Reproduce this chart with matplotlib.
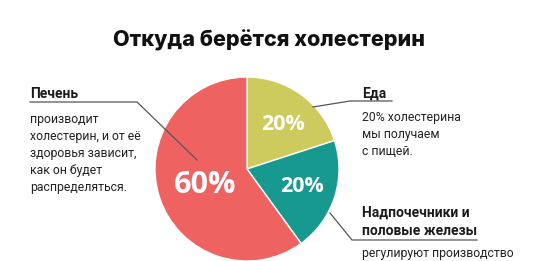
import matplotlib
matplotlib.use("Agg")
import matplotlib.pyplot as plt

# данные
доли = [20, 20, 60]
подписи = ["20%", "20%", "60%"]
цвета = ["#cdcb5e", "#17998f", "#ef6262"]
заголовок = "Откуда берётся холестерин"

W, H = 533, 261
fig = plt.figure(figsize=(W / 100, H / 100), dpi=100)
ax = fig.add_axes([0, 0, 1, 1])

def Y(y):
    # пиксели сверху -> координаты снизу
    return H - y

cx, cy, r = 247, Y(169), 92
wedges, _ = ax.pie(доли, colors=цвета, startangle=90, counterclock=False,
                   center=(cx, cy), radius=r,
                   wedgeprops=dict(edgecolor="white", linewidth=1))
ax.set_xlim(0, W)
ax.set_ylim(0, H)
ax.set_aspect("equal")
ax.axis("off")

# проценты внутри секторов
pos = [(283, 125, 15.5), (302, 187, 15.5), (205, 185, 22)]
for (x, y, fs), t in zip(pos, подписи):
    ax.text(x, Y(y), t, ha="center", va="center", color="white",
            fontsize=fs, fontweight="bold", family="Open Sans")

ax.text(269, Y(40), заголовок, ha="center", va="center", fontsize=15.5,
        fontweight="heavy", color="#111111", family="Inter")

bold = dict(fontsize=10, fontweight="bold", color="#1a1a1a", family="Roboto")
body = dict(fontsize=8.8, color="#222222", family="Roboto", linespacing=1.4)
lc = dict(color="#555555", linewidth=0.9)

# Печень
ax.text(30, Y(94), "Печень", va="center", ha="left", **bold)
ax.plot([30, 137, 197], [Y(102), Y(102), Y(160)], **lc)
ax.text(30, Y(113), "производит\nхолестерин, и от её\nздоровья зависит,\nкак он будет\nраспределяться.",
        va="top", ha="left", **body)

# Еда
ax.text(362, Y(94), "Еда", va="center", ha="left", **bold)
ax.plot([313, 350, 392], [Y(107), Y(101), Y(101)], **lc)
ax.text(362, Y(111), "20% холестерина\nмы получаем\nс пищей.", va="top", ha="left", **body)

# Надпочечники
ax.text(362, Y(222), "Надпочечники и\nполовые железы", va="center", ha="left",
        linespacing=1.35, **bold)
ax.plot([330, 352, 477], [Y(213), Y(240), Y(240)], **lc)
ax.text(362, Y(247), "регулируют производство", va="top", ha="left", **body)

fig.savefig("out.png", dpi=100, facecolor="white")
